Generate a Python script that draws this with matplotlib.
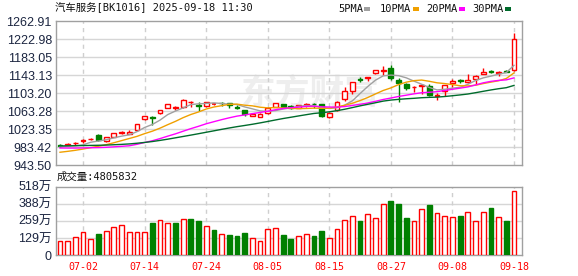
import matplotlib
matplotlib.use("Agg")
import matplotlib.pyplot as plt
from matplotlib.patches import Rectangle

# ---------------- data ----------------
dates_labels = ["07-02", "07-14", "07-24", "08-05", "08-15", "08-27", "09-08", "09-18"]
date_label_idx = [3, 11, 19, 27, 35, 43, 51, 59]

opens = [989, 989, 992, 997, 1001, 1010, 997.5, 1007, 1016, 1014,
         1021.8, 1045.4, 1050, 1058.7, 1071.2, 1071, 1071.9, 1083, 1076, 1074.9,
         1079, 1081.5, 1081.6, 1073, 1066, 1052.6, 1051, 1059.4, 1073.4, 1079.3,
         1075, 1071.2, 1078, 1080, 1079.3, 1049.8, 1066, 1089.6, 1108, 1135,
         1136, 1147, 1153, 1158, 1131.6, 1124.3, 1116, 1119, 1119.3, 1097,
         1108.9, 1124.9, 1131.5, 1127.1, 1134.5, 1145.5, 1151.5, 1147.5, 1151.5, 1153.8]
closes = [987, 991, 994, 999, 1003, 1000, 1005.6, 1014.5, 1018, 1018,
          1034.3, 1052, 1048, 1066, 1079.3, 1073, 1087.4, 1084.5, 1074.5, 1083,
          1079.5, 1080.5, 1076.4, 1071.5, 1056.4, 1058, 1058, 1070.5, 1080.8, 1073.4,
          1070, 1076.4, 1079, 1079, 1052.6, 1060, 1084.4, 1108, 1127, 1133,
          1138, 1154.5, 1155, 1136, 1126.4, 1114, 1118, 1121, 1099.4, 1100,
          1121, 1130.8, 1130, 1132.3, 1141.9, 1150.7, 1150, 1151, 1150.5, 1222.4]
highs = [991, 992, 996, 1002, 1005, 1012, 1006, 1015, 1020, 1021,
         1036, 1053, 1052, 1067, 1080, 1075, 1090, 1085, 1084, 1084,
         1081, 1083, 1082, 1077, 1067, 1059, 1059, 1072, 1082, 1080,
         1076, 1077, 1081, 1081, 1080, 1061, 1086, 1117, 1128, 1138,
         1138.5, 1155, 1163, 1166, 1137, 1126, 1119, 1123, 1123, 1104,
         1122, 1134, 1134, 1145, 1142.5, 1158.9, 1154, 1151.5, 1154, 1235.6]
lows = [985, 988, 989, 993, 1000, 998, 996, 1006, 1014, 1013,
        1020, 1044, 1033, 1057, 1070, 1066, 1070, 1072, 1064, 1073,
        1078, 1075, 1071, 1068, 1053, 1052, 1050, 1058, 1072, 1072,
        1069, 1070, 1073, 1070, 1051, 1049, 1064, 1087, 1102, 1128,
        1130, 1146, 1144, 1133, 1083, 1111, 1105, 1101, 1097, 1088,
        1098, 1118, 1126, 1126, 1123, 1145, 1147, 1142, 1149, 1152]

ma5 = [985, 986, 987, 989, 994.8, 997.4, 1000.3, 1004.4, 1008.2, 1011.2,
       1018.1, 1027.4, 1034.1, 1043.7, 1055.9, 1063.7, 1070.7, 1078.0, 1079.7, 1080.5,
       1081.8, 1080.4, 1078.8, 1078.2, 1072.9, 1068.6, 1064.1, 1062.9, 1064.7, 1068.1,
       1070.5, 1074.2, 1075.9, 1075.6, 1071.4, 1069.4, 1071.0, 1076.8, 1086.4, 1102.5,
       1118.1, 1132.1, 1141.5, 1143.3, 1142.0, 1137.2, 1129.9, 1123.1, 1115.8, 1110.5,
       1111.9, 1114.4, 1116.2, 1122.8, 1131.2, 1137.1, 1141.0, 1145.2, 1148.8, 1164.9]
ma10 = [972.6, 974.6, 976.9, 979.7, 982.9, 985.8, 989.3, 993.6, 998.3, 1003.0,
        1007.7, 1013.8, 1019.2, 1025.9, 1033.6, 1040.9, 1049.1, 1056.1, 1061.7, 1068.2,
        1072.7, 1075.6, 1078.4, 1079.0, 1076.7, 1075.2, 1072.2, 1070.8, 1071.5, 1070.5,
        1069.6, 1069.1, 1069.4, 1070.2, 1069.8, 1070.0, 1072.6, 1076.4, 1081.0, 1086.9,
        1093.7, 1101.6, 1109.2, 1114.9, 1122.2, 1127.6, 1131.0, 1132.3, 1129.5, 1126.2,
        1124.5, 1122.2, 1119.7, 1119.3, 1120.8, 1124.5, 1127.7, 1130.7, 1135.8, 1148.1]
ma20 = [982.0, 981.9, 981.9, 982.2, 982.6, 982.9, 983.5, 984.5, 985.7, 986.9,
        990.1, 994.2, 998.0, 1002.8, 1008.2, 1013.3, 1019.1, 1024.8, 1030.0, 1035.6,
        1040.2, 1044.7, 1048.8, 1052.5, 1055.1, 1058.0, 1060.6, 1063.4, 1066.6, 1069.4,
        1071.1, 1072.4, 1073.9, 1074.6, 1073.2, 1072.6, 1072.4, 1073.6, 1076.2, 1078.7,
        1081.6, 1085.3, 1089.3, 1092.5, 1096.0, 1098.8, 1101.8, 1104.3, 1105.3, 1106.6,
        1109.1, 1111.9, 1114.4, 1117.1, 1121.5, 1126.1, 1129.4, 1131.5, 1132.7, 1137.1]
ma30 = [986.5, 986.8, 987.1, 987.4, 987.7, 988.0, 988.5, 989.2, 990.0, 991.0,
        992.5, 994.3, 996.3, 998.8, 1001.5, 1004.5, 1007.5, 1010.5, 1013.6, 1016.8,
        1020.0, 1023.2, 1026.3, 1029.2, 1031.8, 1034.5, 1037.5, 1040.7, 1044.0, 1047.2,
        1050.0, 1052.9, 1055.7, 1058.4, 1060.0, 1062.0, 1064.6, 1067.7, 1071.4, 1075.2,
        1078.7, 1082.1, 1085.7, 1088.0, 1089.6, 1090.9, 1091.9, 1093.2, 1094.0, 1094.6,
        1095.9, 1097.6, 1099.4, 1101.4, 1104.3, 1107.4, 1110.4, 1113.1, 1115.4, 1120.4]

# volume in 万 (10k)
volumes = [109, 109, 134, 172, 119, 159, 182, 210, 225, 172,
           172, 175, 243, 263, 240, 243, 271, 273, 258, 218,
           190, 159, 152, 144, 167, 126, 106, 195, 202, 152,
           121, 147, 157, 142, 182, 126, 195, 263, 293, 258,
           311, 278, 385, 410, 382, 281, 255, 347, 379, 316,
           293, 286, 296, 324, 255, 324, 357, 286, 258, 480.5832]
vol_dir = "RRRRRGRRRR" "RRGRRGRGGR" "GRGGGRRRRG" "GRRGGRRRRG" "RRRGGGRRGR" "RRGRRRGRGR"

price_ticks = [943.50, 983.42, 1023.35, 1063.28, 1103.20, 1143.13, 1183.05, 1222.98, 1262.91]
vol_ticks = [0, 129.5, 259, 388.5, 518]
vol_tick_labels = ["0", "129万", "259万", "388万", "518万"]

title_text = "汽车服务[BK1016] 2025-09-18 11:30"
vol_title = "成交量:4805832"
legend_names = ["5PMA", "10PMA", "20PMA", "30PMA"]
watermark = "东方财富"

# ---------------- style ----------------
RED = "#ff0000"
GREEN = "#008000"
MA_COLORS = ["#a0a0a0", "#f0a000", "#ff00ff", "#006b2c"]
SPINE = "#a0a0a0"
GRID = "#d6d6d6"
LABEL = "#1b2540"
MONO = ["DejaVu Sans Mono", "Noto Sans CJK SC"]
SANS = ["Liberation Sans", "Noto Sans CJK SC"]

W, H = 578, 276
fig = plt.figure(figsize=(W / 100, H / 100), dpi=100)

def box(l, t, r, b):
    return [l / W, 1 - b / H, (r - l) / W, (b - t) / H]

ax = fig.add_axes(box(56, 21, 522, 165.4))
axv = fig.add_axes(box(56, 186.5, 522, 255))

n = len(closes)
xs = list(range(n))
XL = (-0.52, 60.04)

# watermark (behind the marks)
ax.text(310 / W, 1 - 93 / H, watermark, transform=fig.transFigure,
        family=["Noto Sans CJK SC"], fontsize=25, color="#eeeeee",
        ha="center", va="center", fontweight="bold", zorder=0.2)

for a in (ax, axv):
    a.set_xlim(*XL)
    for s in a.spines.values():
        s.set_color(SPINE)
        s.set_linewidth(1)
    for xi in date_label_idx:
        a.axvline(xi, color="#cfcfcf", lw=1, ls=(0, (3, 3)), zorder=0.5)
    a.tick_params(length=0)

# price axis
ax.set_ylim(price_ticks[0], price_ticks[-1])
ax.set_yticks(price_ticks)
ax.set_yticklabels([f"{v:.2f}" for v in price_ticks])
for v in price_ticks[1:-1]:
    ax.axhline(v, color=GRID, lw=1, zorder=0.4)
ax.tick_params(axis="y", pad=3, labelsize=9, labelcolor=LABEL)
for t in ax.get_yticklabels():
    t.set_family(SANS)
ax.set_xticks([])

cw = 0.62
for i in xs:
    o, c, h, l = opens[i], closes[i], highs[i], lows[i]
    up = c >= o
    col = RED if up else GREEN
    top, bot = max(o, c), min(o, c)
    ax.vlines(i, top, h, color=col, lw=1, zorder=2)
    ax.vlines(i, l, bot, color=col, lw=1, zorder=2)
    if top - bot < 0.6:
        ax.hlines(top, i - cw / 2, i + cw / 2, color=col, lw=1.2, zorder=3)
    else:
        ax.add_patch(Rectangle((i - cw / 2, bot), cw, top - bot,
                               facecolor="white" if up else col, edgecolor=col,
                               lw=1, zorder=3))

for series, col in zip([ma5, ma10, ma20, ma30], MA_COLORS):
    ax.plot(xs, series, color=col, lw=1, zorder=4)

# volume axis
axv.set_ylim(0, vol_ticks[-1])
axv.set_yticks(vol_ticks)
axv.set_yticklabels(vol_tick_labels)
for v in vol_ticks[1:-1]:
    axv.axhline(v, color=GRID, lw=1, zorder=0.4)
axv.tick_params(axis="y", pad=3, labelsize=9, labelcolor=LABEL)
for t in axv.get_yticklabels():
    t.set_family(SANS)
vcol = [RED if d == "R" else GREEN for d in vol_dir]
vface = ["white" if d == "R" else GREEN for d in vol_dir]
axv.bar(xs, volumes, width=0.62, color=vface, edgecolor=vcol, lw=1, zorder=3)
axv.set_xticks(date_label_idx)
axv.set_xticklabels(dates_labels)
axv.tick_params(axis="x", pad=5, labelsize=7.2, labelcolor=RED)
for t in axv.get_xticklabels():
    t.set_family(MONO)

# texts
fig.text(55 / W, 1 - 8 / H, title_text, family=MONO, fontsize=7.5, color="#111111",
         ha="left", va="center")
fig.text(57 / W, 1 - 176.5 / H, vol_title, family=MONO, fontsize=7.5, color="#111111",
         ha="left", va="center")

leg_x = [338, 380, 426, 472]
sq_x = [364, 413, 459, 505]
for name, lx, sx, col in zip(legend_names, leg_x, sq_x, MA_COLORS):
    fig.text(lx / W, 1 - 9 / H, name, family=MONO, fontsize=7.5, color="#111111",
             ha="left", va="center")
    fig.patches.append(Rectangle((sx / W, 1 - 11 / H), 6 / W, 4 / H,
                                 transform=fig.transFigure, facecolor=col,
                                 edgecolor="none"))

fig.savefig("out.png", dpi=100)
